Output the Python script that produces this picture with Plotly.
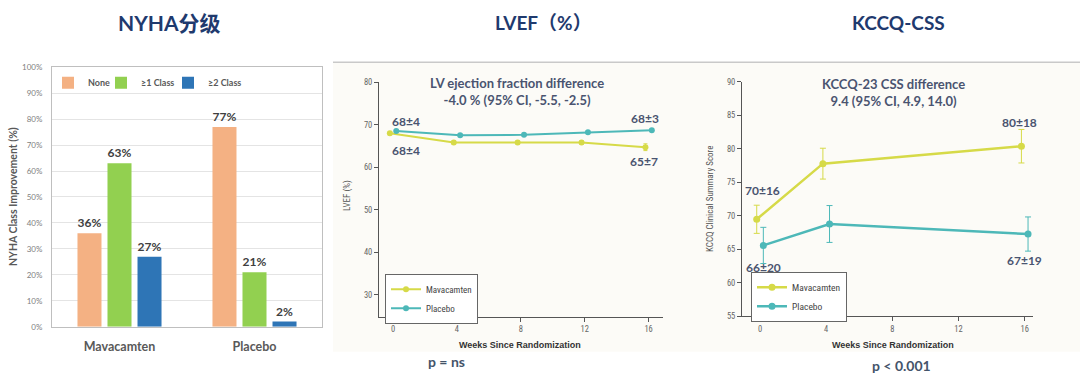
import plotly.graph_objects as go

W, H = 1080, 376

# ---------------- data ----------------
groups = ["Mavacamten", "Placebo"]
nyha_names = ["None", "≥1 Class", "≥2 Class"]
nyha_none = [36, 77]
nyha_ge1 = [63, 21]
nyha_ge2 = [27, 2]

lvef_weeks = [0, 4, 8, 12, 16]
lvef_mava = [68.0, 65.8, 65.8, 65.8, 64.7]
lvef_mava_err = [0.4, 0.4, 0.4, 0.4, 0.8]
lvef_plac = [68.5, 67.5, 67.6, 68.2, 68.7]
lvef_plac_err = [0.3, 0.3, 0.3, 0.3, 0.3]
lvef_mava_labels = ["68±4", "65±7"]   # baseline, week 16
lvef_plac_labels = ["68±4", "68±3"]

kccq_weeks = [0, 4, 16]
kccq_mava = [69.5, 77.8, 80.4]
kccq_mava_err = [2.1, 2.3, 2.5]
kccq_plac = [65.6, 68.8, 67.3]
kccq_plac_err = [2.7, 2.75, 2.55]
kccq_mava_labels = ["70±16", "80±18"]
kccq_plac_labels = ["66±20", "67±19"]

series_names = ["Mavacamten", "Placebo"]

# ---------------- styles ----------------
C_NONE, C_GE1, C_GE2 = "#F4B183", "#92D050", "#2E75B6"
C_MAVA, C_PLAC = "#D6DA48", "#4DB8B8"
NAVY = "#1F3A6E"
SLATE = "#4A5470"
LATO = "Lato, 'Noto Sans CJK SC', sans-serif"
NARROW = "'Liberation Sans Narrow', 'Roboto Condensed', 'Liberation Sans', Arial, sans-serif"
ARIAL = "'Liberation Sans', Arial, sans-serif"
OFF = 0.2

KY, CY = 0.975, 188.0   # vertical calibration of the rendered page


def px(x):
    return x / W


def py(y):
    return 1 - (CY + (y - CY) / KY) / H


fig = go.Figure()

# ---------------- panel 1: NYHA bars ----------------
bar_legends = ["legend", "legend4", "legend5"]
for name, vals, col, lg in zip(nyha_names, [nyha_none, nyha_ge1, nyha_ge2],
                               [C_NONE, C_GE1, C_GE2], bar_legends):
    fig.add_trace(go.Bar(
        x=groups, y=vals, name=name, marker=dict(color=col, line=dict(width=0)),
        text=[f"{v}%" for v in vals], textposition="outside", cliponaxis=False,
        textfont=dict(family=LATO, size=12, color="#404040", weight="bold"),
        xaxis="x", yaxis="y", legend=lg, showlegend=True,
    ))

# ---------------- panel 2: LVEF ----------------
fig.add_trace(go.Scatter(
    x=[w - OFF for w in lvef_weeks], y=lvef_mava, name=series_names[0], mode="lines+markers",
    line=dict(color=C_MAVA, width=2), marker=dict(color=C_MAVA, size=6),
    error_y=dict(type="data", array=lvef_mava_err, color=C_MAVA, thickness=1, width=2),
    xaxis="x2", yaxis="y2", legend="legend2",
))
fig.add_trace(go.Scatter(
    x=[w + OFF for w in lvef_weeks], y=lvef_plac, name=series_names[1], mode="lines+markers",
    line=dict(color=C_PLAC, width=2), marker=dict(color=C_PLAC, size=6),
    error_y=dict(type="data", array=lvef_plac_err, color=C_PLAC, thickness=1, width=2),
    xaxis="x2", yaxis="y2", legend="legend2",
))

# ---------------- panel 3: KCCQ ----------------
fig.add_trace(go.Scatter(
    x=[w - OFF for w in kccq_weeks], y=kccq_mava, name=series_names[0], mode="lines+markers",
    line=dict(color=C_MAVA, width=2.5), marker=dict(color=C_MAVA, size=7),
    error_y=dict(type="data", array=kccq_mava_err, color=C_MAVA, thickness=1, width=3),
    xaxis="x3", yaxis="y3", legend="legend3",
))
fig.add_trace(go.Scatter(
    x=[w + OFF for w in kccq_weeks], y=kccq_plac, name=series_names[1], mode="lines+markers",
    line=dict(color=C_PLAC, width=2.5), marker=dict(color=C_PLAC, size=7),
    error_y=dict(type="data", array=kccq_plac_err, color=C_PLAC, thickness=1, width=3),
    xaxis="x3", yaxis="y3", legend="legend3",
))

annotations = []


def txt(x, y, s, size, color, family=LATO, bold=True, angle=0, xref="paper", yref="paper",
        xshift=0, yshift=0):
    annotations.append(dict(
        x=x, y=y, xref=xref, yref=yref, text=s, showarrow=False, textangle=angle,
        xshift=xshift, yshift=yshift, xanchor="center", yanchor="middle",
        font=dict(family=family, size=size, color=color, weight="bold" if bold else "normal"),
    ))


# top titles
txt(px(169), py(22), "NYHA分级", 21, NAVY)
txt(px(543), py(22), "LVEF（%）", 19, NAVY)
txt(px(898), py(22), "KCCQ-CSS", 19, NAVY)

# axis titles
txt(px(13), py(197), "NYHA Class Improvement (%)", 10.5, "#595959", angle=-90)
txt(px(348), py(196), "LVEF (%)", 9, "#555555", family=NARROW, bold=False, angle=-90)
txt(px(710), py(199), "KCCQ Clinical Summary Score", 9, "#555555", family=NARROW, bold=False, angle=-90)
txt(px(520), py(345), "Weeks Since Randomization", 9, "#333333", family=ARIAL)
txt(px(893), py(345), "Weeks Since Randomization", 9, "#333333", family=ARIAL)

# panel headers
txt(px(517), py(91.5), "LV ejection fraction difference<br>-4.0 % (95% CI, -5.5, -2.5)", 13, SLATE)
txt(px(893), py(92), "KCCQ-23 CSS difference<br>9.4 (95% CI, 4.9, 14.0)", 13, SLATE)

# p values
txt(px(447), py(362), "p = ns", 14, "#44546A")
txt(px(901), py(366), "p &lt; 0.001", 14, "#44546A")

# data labels (anchored to data points)
LBL = 12
txt(lvef_weeks[0] + OFF, lvef_plac[0], lvef_plac_labels[0], LBL, SLATE, xref="x2", yref="y2", xshift=10, yshift=10)
txt(lvef_weeks[0] - OFF, lvef_mava[0], lvef_mava_labels[0], LBL, SLATE, xref="x2", yref="y2", xshift=16, yshift=-17)
txt(lvef_weeks[-1] + OFF, lvef_plac[-1], lvef_plac_labels[1], LBL, SLATE, xref="x2", yref="y2", xshift=-7, yshift=12)
txt(lvef_weeks[-1] - OFF, lvef_mava[-1], lvef_mava_labels[1], LBL, SLATE, xref="x2", yref="y2", xshift=-1, yshift=-14)

txt(kccq_weeks[0] - OFF, kccq_mava[0], kccq_mava_labels[0], LBL, SLATE, xref="x3", yref="y3", xshift=6, yshift=29)
txt(kccq_weeks[0] + OFF, kccq_plac[0], kccq_plac_labels[0], LBL, SLATE, xref="x3", yref="y3", xshift=0, yshift=-22)
txt(kccq_weeks[-1] - OFF, kccq_mava[-1], kccq_mava_labels[1], LBL, SLATE, xref="x3", yref="y3", xshift=-2, yshift=24)
txt(kccq_weeks[-1] + OFF, kccq_plac[-1], kccq_plac_labels[1], LBL, SLATE, xref="x3", yref="y3", xshift=-4, yshift=-26)

shapes = [
    dict(type="rect", xref="paper", yref="paper", x0=px(333), x1=1, y0=py(352), y1=py(62),
         fillcolor="#FCFBF7", line=dict(width=0), layer="below"),
    dict(type="line", xref="paper", yref="paper", x0=px(333), x1=1, y0=py(62), y1=py(62),
         line=dict(color="#C9C9C9", width=1.5)),
]

tick_small = dict(family=NARROW, size=8.5, color="#666666")
bar_legend_font = dict(family=LATO, size=9, color="#595959", weight="bold")


def bar_legend(x):
    return dict(x=px(x), y=py(68), xanchor="left", yanchor="top", bgcolor="rgba(0,0,0,0)",
                font=bar_legend_font, itemwidth=30, visible=True)


fig.update_layout(
    width=W, height=H, autosize=False, showlegend=True,
    margin=dict(l=0, r=0, t=0, b=0),
    paper_bgcolor="white", plot_bgcolor="rgba(0,0,0,0)",
    barmode="group", bargap=0.333, bargroupgap=0.2,
    annotations=annotations, shapes=shapes,
    xaxis=dict(domain=[px(52), px(322)], anchor="y", showline=True, mirror=True,
               linecolor="#BFBFBF", linewidth=1, ticks="", ticklabelstandoff=8,
               tickfont=dict(family=LATO, size=12.5, color="#595959", weight="bold")),
    yaxis=dict(domain=[py(327), py(67)], anchor="x", range=[0, 100], dtick=10,
               ticksuffix="%", showline=True, mirror=True, linecolor="#BFBFBF",
               gridcolor="#E4E4E4", zeroline=False, ticks="", ticklabelstandoff=7,
               tickfont=dict(family=LATO, size=8, color="#808080")),
    xaxis2=dict(domain=[px(379), px(663)], anchor="y2", range=[-0.88, 16.9],
                tickvals=lvef_weeks, showline=True, linecolor="#555555", linewidth=1,
                ticks="outside", ticklen=4, tickcolor="#555555", showgrid=False,
                zeroline=False, tickfont=tick_small),
    yaxis2=dict(domain=[py(317), py(82)], anchor="x2", range=[24.8, 80], tickvals=[30, 40, 50, 60, 70, 80],
                showline=True, linecolor="#555555", linewidth=1, ticks="outside", ticklen=4,
                tickcolor="#555555", showgrid=False, zeroline=False, tickfont=tick_small),
    xaxis3=dict(domain=[px(742), px(1033)], anchor="y3", range=[-1.09, 16.5],
                tickvals=[0, 4, 8, 12, 16], showline=True, linecolor="#555555", linewidth=1,
                ticks="outside", ticklen=4, tickcolor="#555555", showgrid=False,
                zeroline=False, tickfont=tick_small),
    yaxis3=dict(domain=[py(316.7), py(81.7)], anchor="x3", range=[55, 90], dtick=5,
                showline=True, linecolor="#555555", linewidth=1, ticks="outside", ticklen=4,
                tickcolor="#555555", showgrid=False, zeroline=False, tickfont=tick_small),
    legend=bar_legend(48),
    legend4=bar_legend(101),
    legend5=bar_legend(168),
    legend2=dict(x=px(385), y=py(274), xanchor="left", yanchor="top", bgcolor="white",
                 bordercolor="#666666", borderwidth=1, itemwidth=30,
                 font=dict(family=NARROW, size=9, color="#444444"), tracegroupgap=0),
    legend3=dict(x=px(751), y=py(272), xanchor="left", yanchor="top", bgcolor="white",
                 bordercolor="#666666", borderwidth=1, itemwidth=30,
                 font=dict(family=NARROW, size=9.5, color="#444444"), tracegroupgap=0),
)

fig.write_html(
    "out.html",
    config={"displayModeBar": False},
    post_script="document.body.style.margin='0';document.body.style.overflow='hidden';",
)
